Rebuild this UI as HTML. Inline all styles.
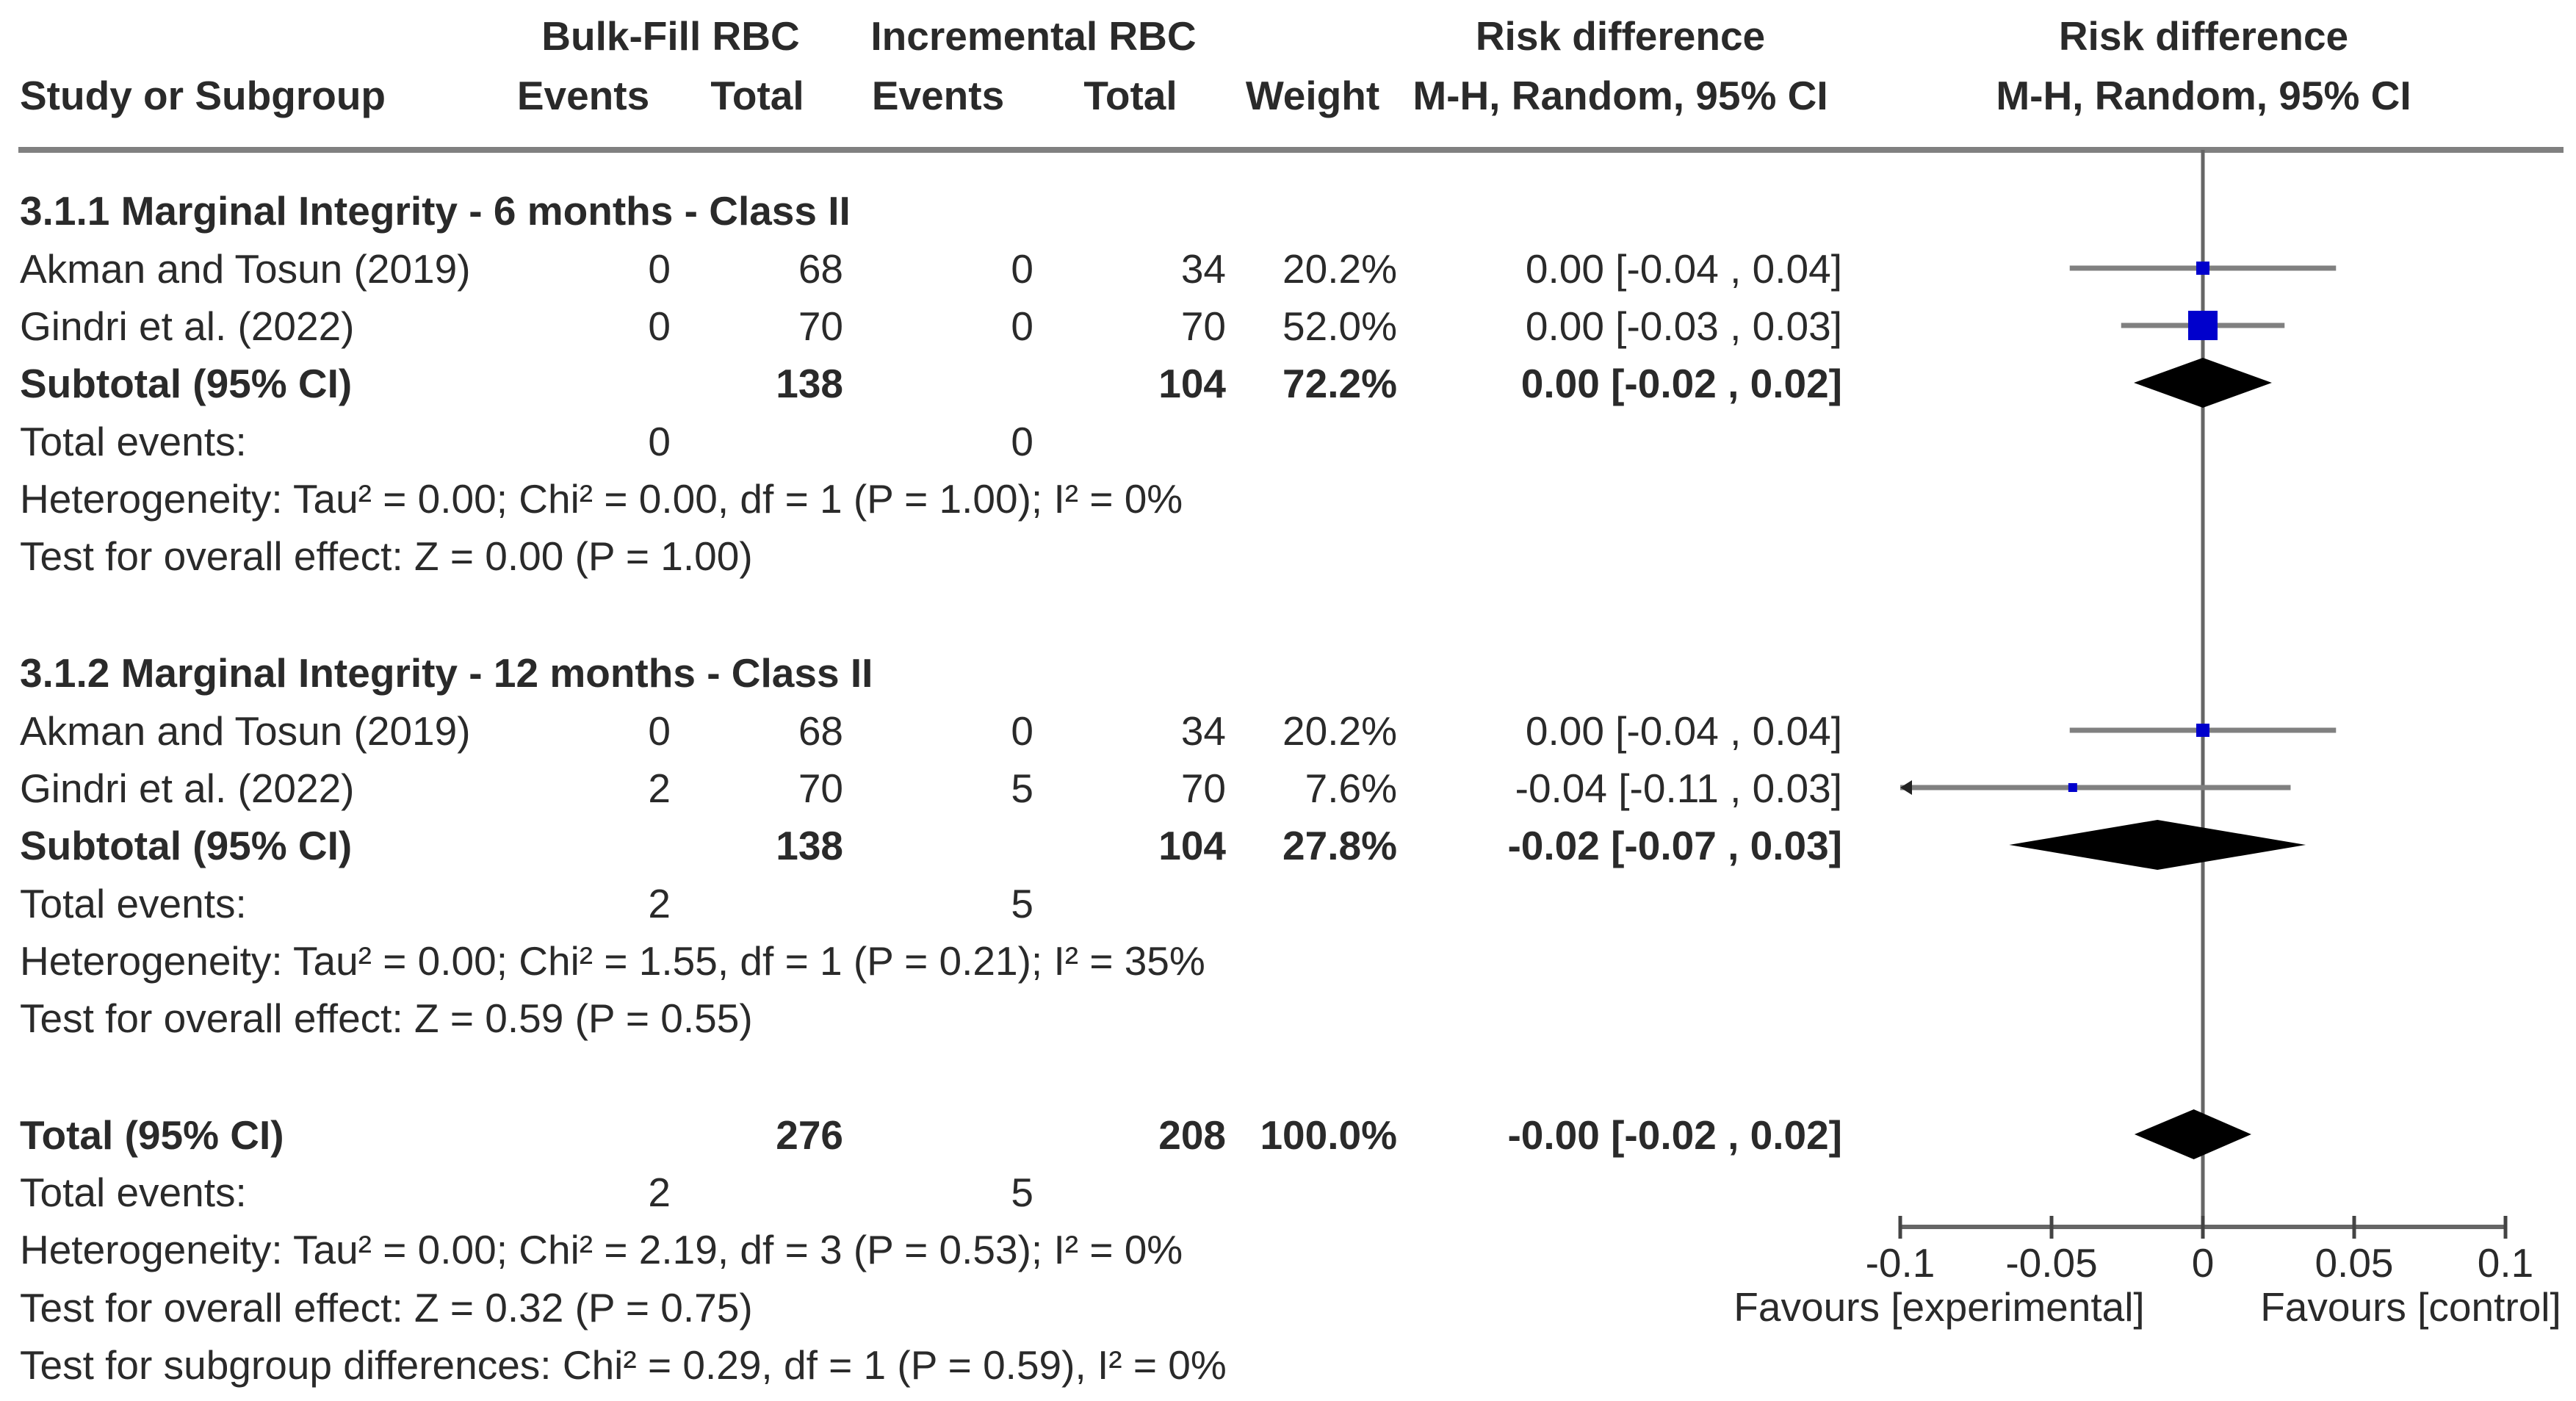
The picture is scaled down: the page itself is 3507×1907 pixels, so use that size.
<!DOCTYPE html>
<html><head><meta charset="utf-8">
<style>
html,body{margin:0;padding:0;background:#fff;}
svg{display:block;}
text{font-family:"Liberation Sans",Arial,sans-serif;font-size:55px;fill:#2a2a2a;}
.b{font-weight:bold;}
</style></head>
<body>
<svg id="chart" width="3507" height="1907" viewBox="0 0 3507 1907">
<g id="table"></g>
<g id="plot"></g>
</svg>
<script>
// ---- chart data ----
const studyLabels = ["Akman and Tosun (2019)","Gindri et al. (2022)","Akman and Tosun (2019)","Gindri et al. (2022)"];
const studyRows = [4,5,13,14];
const studyEst = [0.00, 0.00, 0.00, -0.043];
const studyLo = [-0.044, -0.027, -0.044, -0.13];
const studyHi = [0.044, 0.027, 0.044, 0.029];
const studyBoxSize = [18, 40, 18, 12];
const summaryRows = [6, 15, 21];
const summaryEst = [0.00, -0.015, -0.003];
const summaryLo = [-0.0228, -0.064, -0.0226];
const summaryHi = [0.0228, 0.034, 0.016];
const tickValues = [-0.1, -0.05, 0, 0.05, 0.1];
const tickLabels = ["-0.1","-0.05","0","0.05","0.1"];
const axisMin = -0.1, axisMax = 0.1;

const NS = "http://www.w3.org/2000/svg";
const table = document.getElementById('table');
const plot = document.getElementById('plot');
const xScale = v => 2999 + v*4120;

function txt(parent, x, y, s, anchor, bold, name) {
  const t = document.createElementNS(NS,'text');
  t.setAttribute('x', x); t.setAttribute('y', y);
  if (anchor) t.setAttribute('text-anchor', anchor);
  if (bold) t.setAttribute('class','b');
  t.textContent = s;
  
  
  parent.appendChild(t);
  return t;
}

// headers
txt(table, 913, 68, "Bulk-Fill RBC", "middle", true, "header-bulk-fill");
txt(table, 1407, 68, "Incremental RBC", "middle", true, "header-incremental");
txt(table, 2206, 68, "Risk difference", "middle", true, "header-risk-difference");
txt(table, 3000, 68, "Risk difference", "middle", true, "header-risk-difference-plot");
txt(table, 27, 149, "Study or Subgroup", "start", true, "header-study");
txt(table, 794, 149, "Events", "middle", true, "header-events-bulk");
txt(table, 1031, 149, "Total", "middle", true, "header-total-bulk");
txt(table, 1277, 149, "Events", "middle", true, "header-events-inc");
txt(table, 1539, 149, "Total", "middle", true, "header-total-inc");
txt(table, 1787, 149, "Weight", "middle", true, "header-weight");
txt(table, 2206, 149, "M-H, Random, 95% CI", "middle", true, "header-mh-ci");
txt(table, 3000, 149, "M-H, Random, 95% CI", "middle", true, "header-mh-ci-plot");

const hl = document.createElementNS(NS,'rect');
hl.setAttribute('x',25); hl.setAttribute('y',200); hl.setAttribute('width',3465); hl.setAttribute('height',8); hl.setAttribute('fill','#808080');


table.appendChild(hl);

const cols = [913,1148,1407,1669,1902,2508];
const rows = [
 [3,"3.1.1 Marginal Integrity - 6 months - Class II",true,null],
 [4,"Akman and Tosun (2019)",false,["0","68","0","34","20.2%","0.00 [-0.04 , 0.04]"]],
 [5,"Gindri et al. (2022)",false,["0","70","0","70","52.0%","0.00 [-0.03 , 0.03]"]],
 [6,"Subtotal (95% CI)",true,["","138","","104","72.2%","0.00 [-0.02 , 0.02]"]],
 [7,"Total events:",false,["0","","0","","",""]],
 [8,"Heterogeneity: Tau² = 0.00; Chi² = 0.00, df = 1 (P = 1.00); I² = 0%",false,null],
 [9,"Test for overall effect: Z = 0.00 (P = 1.00)",false,null],
 [12,"3.1.2 Marginal Integrity - 12 months - Class II",true,null],
 [13,"Akman and Tosun (2019)",false,["0","68","0","34","20.2%","0.00 [-0.04 , 0.04]"]],
 [14,"Gindri et al. (2022)",false,["2","70","5","70","7.6%","-0.04 [-0.11 , 0.03]"]],
 [15,"Subtotal (95% CI)",true,["","138","","104","27.8%","-0.02 [-0.07 , 0.03]"]],
 [16,"Total events:",false,["2","","5","","",""]],
 [17,"Heterogeneity: Tau² = 0.00; Chi² = 1.55, df = 1 (P = 0.21); I² = 35%",false,null],
 [18,"Test for overall effect: Z = 0.59 (P = 0.55)",false,null],
 [21,"Total (95% CI)",true,["","276","","208","100.0%","-0.00 [-0.02 , 0.02]"]],
 [22,"Total events:",false,["2","","5","","",""]],
 [23,"Heterogeneity: Tau² = 0.00; Chi² = 2.19, df = 3 (P = 0.53); I² = 0%",false,null],
 [24,"Test for overall effect: Z = 0.32 (P = 0.75)",false,null],
 [25,"Test for subgroup differences: Chi² = 0.29, df = 1 (P = 0.59), I² = 0%",false,null]
];
function rY(r){
  const centers = {3:286,4:365,5:443,6:521,7:600,8:678,9:756,12:915,13:994,14:1072,15:1150,16:1229,17:1307,18:1385,21:1544,22:1622,23:1700,24:1779,25:1857};
  return centers[r];
}
rows.forEach((row,i)=>{
  const y = rY(row[0])+20;
  txt(table, 27, y, row[1], "start", row[2], "row-label-"+i);
  if (row[3]) row[3].forEach((v,j)=>{ if (v) txt(table, cols[j], y, v, "end", row[2], "row-"+i+"-col-"+j); });
});

// zero line
const zl = document.createElementNS(NS,'line');
zl.setAttribute('x1',xScale(0)); zl.setAttribute('x2',xScale(0)); zl.setAttribute('y1',204); zl.setAttribute('y2',1670);
zl.setAttribute('stroke','#666'); zl.setAttribute('stroke-width',5);


plot.appendChild(zl);

// study CIs and boxes
studyRows.forEach((r,i)=>{
  const y = rY(r);
  const lo = Math.max(studyLo[i], axisMin), hi = Math.min(studyHi[i], axisMax);
  const l = document.createElementNS(NS,'line');
  l.setAttribute('x1', xScale(lo)); l.setAttribute('x2', xScale(hi));
  l.setAttribute('y1', y); l.setAttribute('y2', y);
  l.setAttribute('stroke','#808080'); l.setAttribute('stroke-width',7);
  
  
  plot.appendChild(l);
  if (studyLo[i] < axisMin) {
    const a = document.createElementNS(NS,'polygon');
    const x0 = xScale(axisMin);
    a.setAttribute('points', `${x0},${y} ${x0+16},${y-10} ${x0+16},${y+10}`);
    a.setAttribute('fill','#222');
    
    
    plot.appendChild(a);
  }
  const s = studyBoxSize[i];
  const b = document.createElementNS(NS,'rect');
  b.setAttribute('x', xScale(studyEst[i]) - s/2); b.setAttribute('y', y - s/2);
  b.setAttribute('width', s); b.setAttribute('height', s); b.setAttribute('fill','#0000cc');
  
  
  plot.appendChild(b);
});

// diamonds
summaryRows.forEach((r,i)=>{
  const y = rY(r), h = 34;
  const d = document.createElementNS(NS,'polygon');
  d.setAttribute('points', `${xScale(summaryLo[i])},${y} ${xScale(summaryEst[i])},${y-h} ${xScale(summaryHi[i])},${y} ${xScale(summaryEst[i])},${y+h}`);
  d.setAttribute('fill','#000');
  
  
  plot.appendChild(d);
});

// axis
const ax = document.createElementNS(NS,'line');
ax.setAttribute('x1', xScale(axisMin)); ax.setAttribute('x2', xScale(axisMax));
ax.setAttribute('y1',1670); ax.setAttribute('y2',1670);
ax.setAttribute('stroke','#666'); ax.setAttribute('stroke-width',6);


plot.appendChild(ax);
tickValues.forEach((v,i)=>{
  const t = document.createElementNS(NS,'line');
  t.setAttribute('x1', xScale(v)); t.setAttribute('x2', xScale(v));
  t.setAttribute('y1',1655); t.setAttribute('y2',1686);
  t.setAttribute('stroke','#444'); t.setAttribute('stroke-width',5);
  
  
  plot.appendChild(t);
  txt(plot, xScale(v), 1738, tickLabels[i], "middle", false, "x-tick-label");
});
txt(plot, 2640, 1798, "Favours [experimental]", "middle", false, "favours-experimental");
txt(plot, 3282, 1798, "Favours [control]", "middle", false, "favours-control");
</script>
</body></html>
